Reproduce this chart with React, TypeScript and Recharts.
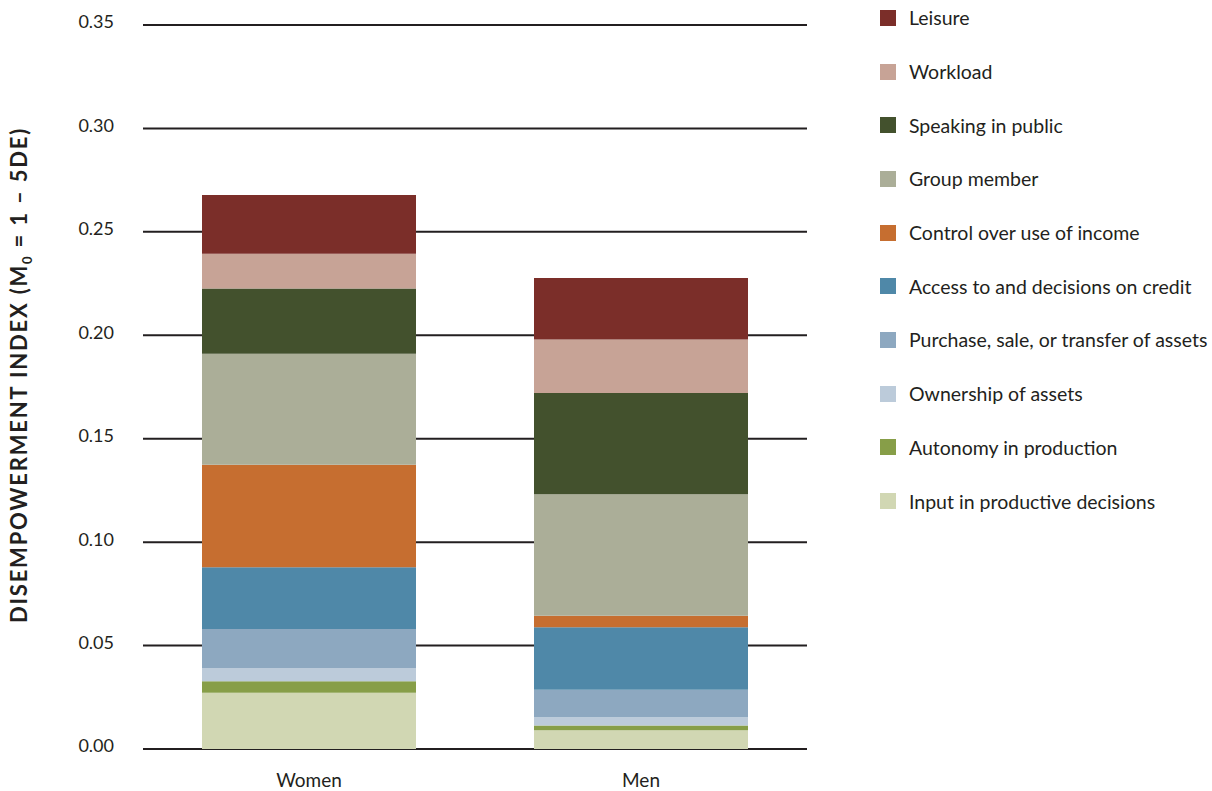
import { BarChart, Bar, XAxis, YAxis, CartesianGrid, Legend } from 'recharts';

const categories = ['Women', 'Men'];

// stacked from the bottom up
const inputDecisions = [0.0272, 0.0091];
const autonomy = [0.0056, 0.0023];
const ownership = [0.0063, 0.004];
const purchase = [0.0189, 0.0133];
const credit = [0.0299, 0.0302];
const income = [0.0495, 0.0055];
const groupMember = [0.0537, 0.0588];
const speaking = [0.0315, 0.0489];
const workload = [0.0168, 0.0259];
const leisure = [0.0284, 0.0297];

const yTicks = [0, 0.05, 0.1, 0.15, 0.2, 0.25, 0.3, 0.35];

const series = [
  { key: 'input', name: 'Input in productive decisions', values: inputDecisions, color: '#D1D7B3' },
  { key: 'autonomy', name: 'Autonomy in production', values: autonomy, color: '#879E48' },
  { key: 'ownership', name: 'Ownership of assets', values: ownership, color: '#BCCBDA' },
  { key: 'purchase', name: 'Purchase, sale, or transfer of assets', values: purchase, color: '#8DA8C0' },
  { key: 'credit', name: 'Access to and decisions on credit', values: credit, color: '#4F88A8' },
  { key: 'income', name: 'Control over use of income', values: income, color: '#C66E30' },
  { key: 'group', name: 'Group member', values: groupMember, color: '#ABAE98' },
  { key: 'speaking', name: 'Speaking in public', values: speaking, color: '#43512D' },
  { key: 'workload', name: 'Workload', values: workload, color: '#C7A396' },
  { key: 'leisure', name: 'Leisure', values: leisure, color: '#7B2E29' },
];

const data = categories.map((cat, i) => {
  const row: any = { name: cat };
  series.forEach((s) => {
    row[s.key] = s.values[i];
  });
  return row;
});

const FONT = 'Lato, "Open Sans", sans-serif';
const INK = '#231f20';

function YTitle() {
  return (
    <text
      transform="translate(27, 375) rotate(-90)"
      textAnchor="middle"
      fontFamily={FONT}
      fontWeight={700}
      fontSize={22}
      letterSpacing={1.8}
      fill={INK}
    >
      DISEMPOWERMENT INDEX (M
      <tspan fontSize={13} dy={5}>0</tspan>
      <tspan dy={-5}> = 1 – 5DE)</tspan>
    </text>
  );
}

function LegendList() {
  const items = [...series].reverse();
  return (
    <div style={{ fontFamily: FONT, fontSize: 19.5, color: INK }}>
      {items.map((s) => (
        <div key={s.key} style={{ display: 'flex', alignItems: 'center', height: 53.7 }}>
          <div style={{ width: 16, height: 16, background: s.color, marginRight: 13, flexShrink: 0 }} />
          <span style={{ whiteSpace: 'nowrap' }}>{s.name}</span>
        </div>
      ))}
    </div>
  );
}

export default function App() {
  return (
    <div>
      <style>{`body { margin: 0; background: #fff; }`}</style>
      <BarChart
        width={1212}
        height={791}
        data={data}
        margin={{ top: 25, right: 405, bottom: 12, left: 0 }}
      >
        <CartesianGrid horizontal vertical={false} stroke={INK} strokeWidth={2} />
        <XAxis
          dataKey="name"
          axisLine={false}
          tickLine={false}
          tickSize={0}
          tickMargin={25}
          height={30}
          tick={{ fontFamily: FONT, fontSize: 19, fill: INK }}
        />
        <YAxis
          width={143}
          domain={[0, 0.35]}
          ticks={yTicks}
          tickFormatter={(v: number) => v.toFixed(2)}
          axisLine={false}
          tickLine={false}
          tickSize={0}
          tickMargin={29}
          tick={{ fontFamily: FONT, fontSize: 18, fill: INK, dy: -3 }}
          label={{ content: () => <YTitle /> }}
        />
        {/* centred + middle keeps the legend from eating plot width; placed by wrapperStyle */}
        <Legend
          layout="horizontal"
          align="center"
          verticalAlign="middle"
          content={() => <LegendList />}
          wrapperStyle={{ left: 880, top: -9, width: 332 }}
        />
        {series.map((s) => (
          <Bar
            key={s.key}
            dataKey={s.key}
            name={s.name}
            stackId="a"
            fill={s.color}
            barSize={214}
            isAnimationActive={false}
          />
        ))}
      </BarChart>
    </div>
  );
}
